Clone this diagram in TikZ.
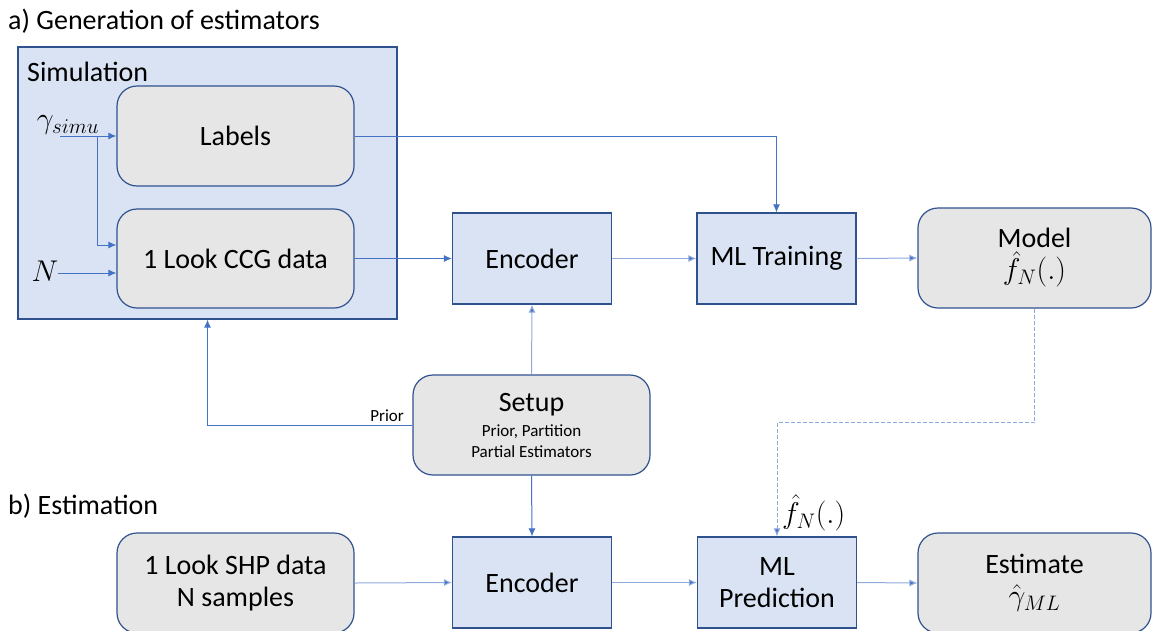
\RequirePackage{fix-cm}
\documentclass[tikz,border=0pt]{standalone}
\usepackage{fontspec}
\setmainfont{Carlito}
\usetikzlibrary{arrows.meta}
\definecolor{boxblue}{HTML}{DAE3F3}
\definecolor{boxgray}{HTML}{E7E6E6}
\definecolor{edgeblue}{HTML}{2F528F}
\definecolor{linkblue}{HTML}{4472C4}
\definecolor{linklight}{HTML}{8FAADC}
\tikzset{
  bluebox/.style={draw=edgeblue, line width=1.2pt, fill=boxblue, rectangle,
    minimum width=159pt, minimum height=91pt, align=center,
    font=\fontsize{28}{32}\selectfont, inner sep=0pt},
  graybox/.style={draw=edgeblue, line width=1.2pt, fill=boxgray, rectangle,
    rounded corners=20pt, minimum width=237pt, minimum height=100pt, align=center,
    font=\fontsize{28}{32}\selectfont, inner sep=0pt},
  link/.style={draw=linkblue, line width=1pt, -{Latex[length=8pt,width=7pt]}},
  linkl/.style={draw=linklight, line width=1pt, -{Latex[length=8pt,width=7pt,fill=linkblue]}},
  dashlink/.style={draw=linklight, line width=1pt, dash pattern=on 4pt off 2pt,
    -{Latex[length=8pt,width=7pt,fill=linkblue]}},
  heading/.style={anchor=west, inner sep=0pt, font=\fontsize{28}{32}\selectfont},
  smalltext/.style={inner sep=0pt, font=\fontsize{17}{20}\selectfont},
  mathtext/.style={inner sep=0pt, font=\fontsize{30}{34}\selectfont},
}
\begin{document}
\begin{tikzpicture}[x=1pt, y=-1pt]
\useasboundingbox (0,0) rectangle (1155,630);
\clip (0,0) rectangle (1155,630);

% section headings
\node[heading] (ha) at (8,21) {a) Generation of estimators};
\node[heading] (hb) at (8,506) {b) Estimation};

% simulation block
\node[draw=edgeblue, line width=1.2pt, fill=boxblue, minimum width=379pt,
  minimum height=272pt, inner sep=0pt] (sim) at (207.5,183) {};
\node[heading] (simtitle) at (27,72) {Simulation};
\node[graybox] (labels) at (235.5,136) {Labels};
\node[graybox, minimum height=99pt] (ccg) at (235.5,258.5) {1 Look CCG data};
\node[mathtext] (gam) at (68,125) {$\gamma_{simu}$};
\node[mathtext] (nsym) at (45,271) {$N$};
\coordinate (gin) at (60,136);
\coordinate (gbr) at (97,136);
\coordinate (nin) at (58,273);

% training chain
\node[bluebox] (enc1) at (532,258.5) {Encoder};
\node[bluebox] (mltrain) at (776.5,258.5) {ML Training};
\node[graybox, minimum width=233pt] (model) at (1034.5,258)
  {Model\\[0pt]{\fontsize{30}{34}\selectfont$\hat{f}_N(.)$}};

% setup
\node[graybox, font=\fontsize{28}{21}\selectfont] (setup) at (531.5,425)
  {Setup\\[4pt]{\fontsize{17}{21}\selectfont Prior, Partition}\\{\fontsize{17}{21}\selectfont Partial Estimators}};

% estimation chain
\node[graybox] (shp) at (235.5,583) {1 Look SHP data\\N samples};
\node[bluebox] (enc2) at (532,582.5) {Encoder};
\node[bluebox] (mlpred) at (777,582.5) {ML\\Prediction};
\node[graybox, minimum width=233pt] (est) at (1034.5,583)
  {Estimate\\[0pt]{\fontsize{30}{34}\selectfont$\hat{\gamma}_{ML}$}};
\node[mathtext, anchor=west] (fhat) at (782,513) {$\hat{f}_N(.)$};

% connectors
\draw[link] (gin) -- (labels.west);
\draw[link] (gbr) |- ([yshift=13.5pt]ccg.west);
\draw[link] (nin) -- (nin -| ccg.west);
\draw[link] (labels.east) -| (mltrain.north);
\draw[link] (ccg.east) -- (enc1.west);
\draw[linkl] (enc1.east) -- (mltrain.west);
\draw[linkl] (mltrain.east) -- (model.west);
\draw[linkl] (setup.north) -- (enc1.south);
\draw[link] (setup.west) -| (sim.south);
\node[smalltext, anchor=south east] (prior) at (404,422) {Prior};
\draw[link] (setup.south) -- (enc2.north);
\draw[dashlink] (model.south) -- ++(0,114) -| (mlpred.north);
\draw[linkl] (shp.east) -- (enc2.west);
\draw[linkl] (enc2.east) -- (mlpred.west);
\draw[linkl] (mlpred.east) -- (est.west);
\end{tikzpicture}
\end{document}
